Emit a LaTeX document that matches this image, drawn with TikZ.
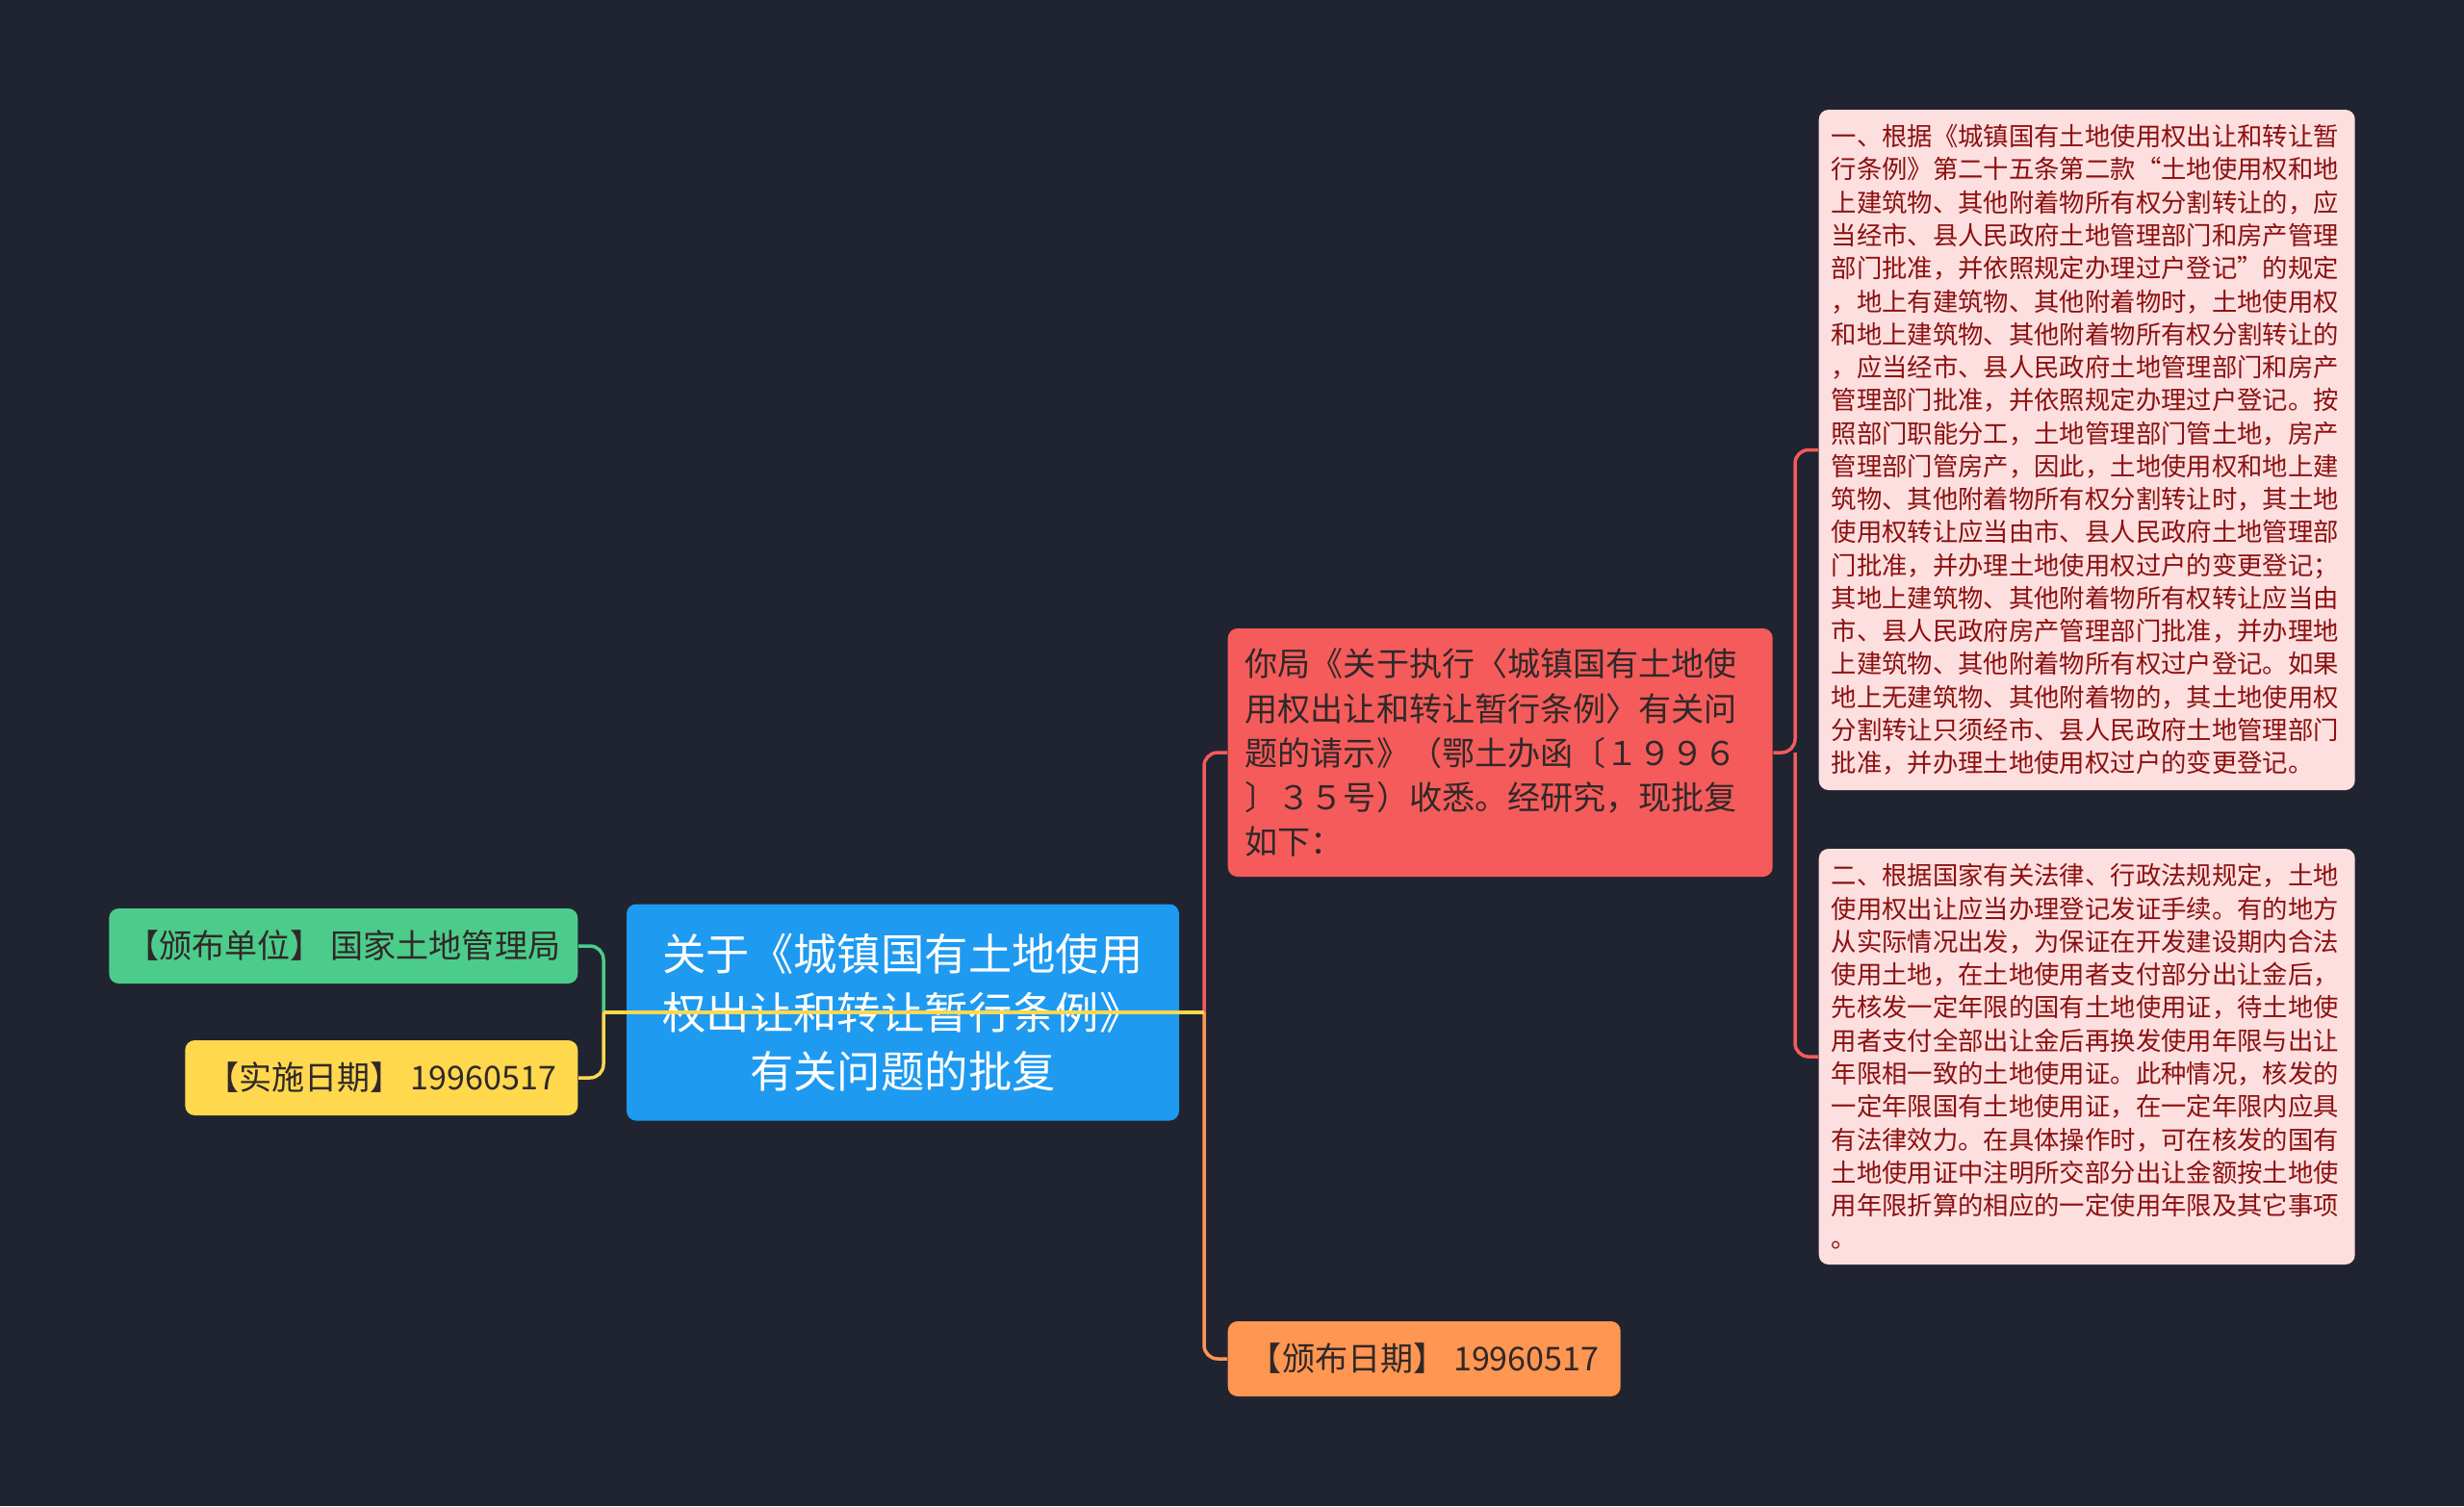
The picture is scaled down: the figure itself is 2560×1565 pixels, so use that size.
\documentclass[tikz,border=0pt]{standalone}
\usepackage{fontspec}
\setmainfont{Noto Sans CJK SC}
\usetikzlibrary{positioning}
\definecolor{night}{RGB}{32,36,48}
\definecolor{sky}{RGB}{30,154,240}
\definecolor{mint}{RGB}{76,204,138}
\definecolor{sun}{RGB}{255,216,78}
\definecolor{coral}{RGB}{245,91,91}
\definecolor{peach}{RGB}{255,150,82}
\definecolor{blush}{RGB}{253,223,223}
\definecolor{wine}{RGB}{140,16,16}
\definecolor{ink}{RGB}{48,40,40}
\tikzset{
  rootbox/.style={fill=sky,text=white,rounded corners=1mm,inner sep=0pt,
    minimum width=57.4mm,minimum height=22.5mm,align=center,
    font=\fontsize{12.9pt}{17.3pt}\selectfont},
  tagbox/.style={fill=#1,text=ink,rounded corners=1mm,inner sep=0pt,
    minimum height=7.8mm,align=center,font=\fontsize{9.7pt}{12pt}\selectfont},
  tagbox/.default=mint,
  replybox/.style={fill=coral,text=ink,rounded corners=1mm,inner xsep=1.8mm,inner ysep=0pt,
    text width=53mm,minimum height=25.8mm,align=left,
    font=\fontsize{9.7pt}{13.1pt}\selectfont},
  detailbox/.style={fill=blush,text=wine,rounded corners=1mm,inner xsep=1.3mm,inner ysep=0pt,
    text width=53.1mm,align=left,font=\fontsize{7.5pt}{9.75pt}\selectfont},
  link/.style={draw=#1,line width=0.35mm,rounded corners=1.4mm},
  link/.default=coral,
}

\begin{document}
\begin{tikzpicture}[x=0.1mm,y=-0.1mm]
  \fill[night] (0,0) rectangle (2560,1565);
  \useasboundingbox (0,0) rectangle (2560,1565);
  % centre topic
  \node[rootbox] (root) at (938,1052) {关于《城镇国有土地使用\\权出让和转让暂行条例》\\有关问题的批复};
  % left side
  \node[tagbox=mint,minimum width=48.7mm,anchor=east] (unit) at (601,983) {【颁布单位】 国家土地管理局};
  \node[tagbox=sun,minimum width=40.8mm,anchor=east] (start) at (601,1120) {【实施日期】 19960517};
  % right side
  \node[replybox,anchor=west] (reply) at (1275,782) {你局《关于执行〈城镇国有土地使\\用权出让和转让暂行条例〉有关问\\题的请示》（鄂土办函〔１９９６\\〕３５号）收悉。经研究，现批复\\如下：};
  \node[tagbox=peach,minimum width=40.8mm,anchor=west] (issued) at (1275,1412) {【颁布日期】 19960517};
  \node[detailbox,minimum height=70.7mm,anchor=west] (one) at (1889,467.5) {一、根据《城镇国有土地使用权出让和转让暂\\
    行条例》第二十五条第二款“土地使用权和地\\
    上建筑物、其他附着物所有权分割转让的，应\\
    当经市、县人民政府土地管理部门和房产管理\\
    部门批准，并依照规定办理过户登记”的规定\\
    ，地上有建筑物、其他附着物时，土地使用权\\
    和地上建筑物、其他附着物所有权分割转让的\\
    ，应当经市、县人民政府土地管理部门和房产\\
    管理部门批准，并依照规定办理过户登记。按\\
    照部门职能分工，土地管理部门管土地，房产\\
    管理部门管房产，因此，土地使用权和地上建\\
    筑物、其他附着物所有权分割转让时，其土地\\
    使用权转让应当由市、县人民政府土地管理部\\
    门批准，并办理土地使用权过户的变更登记；\\
    其地上建筑物、其他附着物所有权转让应当由\\
    市、县人民政府房产管理部门批准，并办理地\\
    上建筑物、其他附着物所有权过户登记。如果\\
    地上无建筑物、其他附着物的，其土地使用权\\
    分割转让只须经市、县人民政府土地管理部门\\
    批准，并办理土地使用权过户的变更登记。};
  \node[detailbox,minimum height=43.2mm,anchor=west] (two) at (1889,1098) {二、根据国家有关法律、行政法规规定，土地\\
    使用权出让应当办理登记发证手续。有的地方\\
    从实际情况出发，为保证在开发建设期内合法\\
    使用土地，在土地使用者支付部分出让金后，\\
    先核发一定年限的国有土地使用证，待土地使\\
    用者支付全部出让金后再换发使用年限与出让\\
    年限相一致的土地使用证。此种情况，核发的\\
    一定年限国有土地使用证，在一定年限内应具\\
    有法律效力。在具体操作时，可在核发的国有\\
    土地使用证中注明所交部分出让金额按土地使\\
    用年限折算的相应的一定使用年限及其它事项\\
    。};
  % connectors
  \coordinate (jl) at (627,1052);
  \coordinate (jr) at (1251,1052);
  \coordinate (jp) at (1865,782);
  \draw[link=mint] (jl) |- (unit.east);
  \draw[link=sun] (jl) |- (start.east);
  \draw[link=coral] (jr) |- (reply.west);
  \draw[link=peach] (jr) |- (issued.west);
  \draw[link=sun] (jl) -- (jr);
  \draw[link] (reply.east) -- (jp) |- (one.west);
  \draw[link] (jp) |- (two.west);
\end{tikzpicture}
\end{document}
